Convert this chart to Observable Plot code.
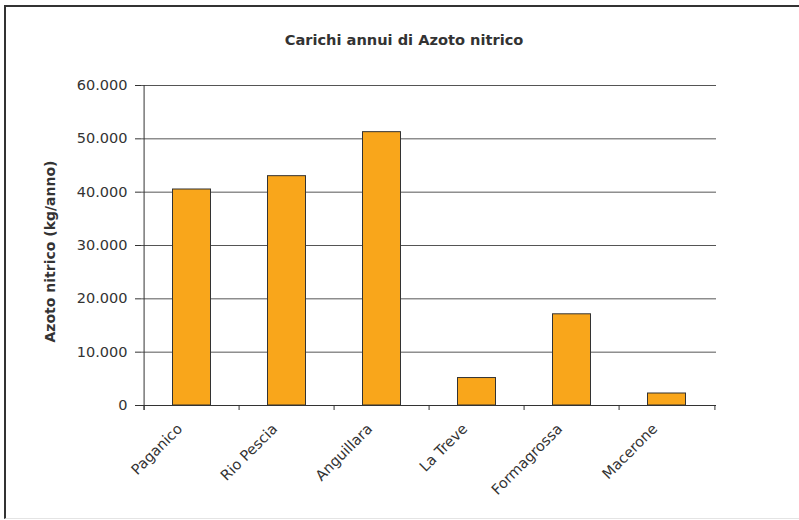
<!DOCTYPE html>
<html>
<head>
<meta charset="utf-8">
<script src="https://cdn.jsdelivr.net/npm/d3@7"></script>
<script src="https://cdn.jsdelivr.net/npm/@observablehq/plot@0.6"></script>
<style>
  body { margin: 0; background: #fff; }
  #wrap { position: relative; width: 799px; height: 520px; overflow: hidden; font-family: "DejaVu Sans", sans-serif; }
  #frame { position: absolute; left: 4px; top: 5px; width: 900px; height: 511px;
           border-left: 2px solid #333; border-top: 2px solid #333; border-bottom: 1px solid #e4e4e4; }
  #title { position: absolute; left: 0; width: 808px; top: 32px; text-align: center;
           font-weight: bold; font-size: 14.6px; line-height: 16px; color: #333; }
  #chart { position: absolute; left: 0; top: 0; }
</style>
</head>
<body>
<div id="wrap">
  <div id="frame"></div>
  <div id="chart"></div>
  <div id="title"></div>
</div>
<script>
// Annual nitrate-nitrogen loads per monitoring station (kg/year)
const stazioni = ["Paganico", "Rio Pescia", "Anguillara", "La Treve", "Formagrossa", "Macerone"];
const carichi = [40500, 43000, 51250, 5150, 17100, 2250];
const yTicks = [0, 10000, 20000, 30000, 40000, 50000, 60000];
const titolo = "Carichi annui di Azoto nitrico";
const yLabel = "Azoto nitrico (kg/anno)";

const data = stazioni.map((s, i) => ({stazione: s, carico: carichi[i]}));

// Italian number format: dot as thousands separator
const it = d3.formatLocale({decimal: ",", thousands: ".", grouping: [3], currency: ["€", ""]});
const fmt = it.format(",.0f");

const W = 799, H = 520, mL = 141, mR = 83, mT = 85, mB = 115;
const step = (W - mL - mR) / stazioni.length;
const ink = "#333";

document.getElementById("title").textContent = titolo;

const chart = Plot.plot({
  width: W, height: H,
  marginLeft: mL, marginRight: mR, marginTop: mT, marginBottom: mB,
  style: {fontFamily: "DejaVu Sans, sans-serif", fontSize: "14.5px", color: ink, background: "transparent"},
  x: {domain: stazioni, padding: 0, axis: null},
  y: {domain: [0, 60000], ticks: yTicks, tickSize: 6, tickPadding: 8, tickFormat: fmt, label: null},
  marks: [
    // horizontal gridlines
    Plot.ruleY(yTicks, {stroke: "#555"}),
    // bars
    Plot.barY(data, {x: "stazione", y: "carico", fill: "#F9A61B", stroke: ink, strokeWidth: 1,
                     insetLeft: 28.5, insetRight: 28.5}),
    // category axis baseline
    Plot.ruleY([0], {stroke: ink}),
    // value axis line
    Plot.ruleX(stazioni.slice(0, 1), {x: d => d, dx: -step / 2, insetBottom: -5, stroke: ink}),
    // tick marks between categories
    Plot.ruleX(stazioni, {x: d => d, dx: -step / 2, y1: 0, y2: 0, insetBottom: -5, stroke: ink}),
    Plot.ruleX(stazioni.slice(-1), {x: d => d, dx: step / 2, y1: 0, y2: 0, insetBottom: -5, stroke: ink}),
    // rotated category labels
    Plot.text(stazioni, {x: d => d, frameAnchor: "bottom", rotate: -45, textAnchor: "end",
                         lineAnchor: "middle", dx: -12, dy: 21, fill: ink, fontSize: 14.5}),
    // value axis title
    Plot.text([yLabel], {frameAnchor: "left", dx: -91, dy: 6, rotate: -90, textAnchor: "middle",
                         lineAnchor: "middle", fontWeight: "bold", fill: ink, fontSize: 14})
  ]
});
document.getElementById("chart").appendChild(chart);
</script>
</body>
</html>
